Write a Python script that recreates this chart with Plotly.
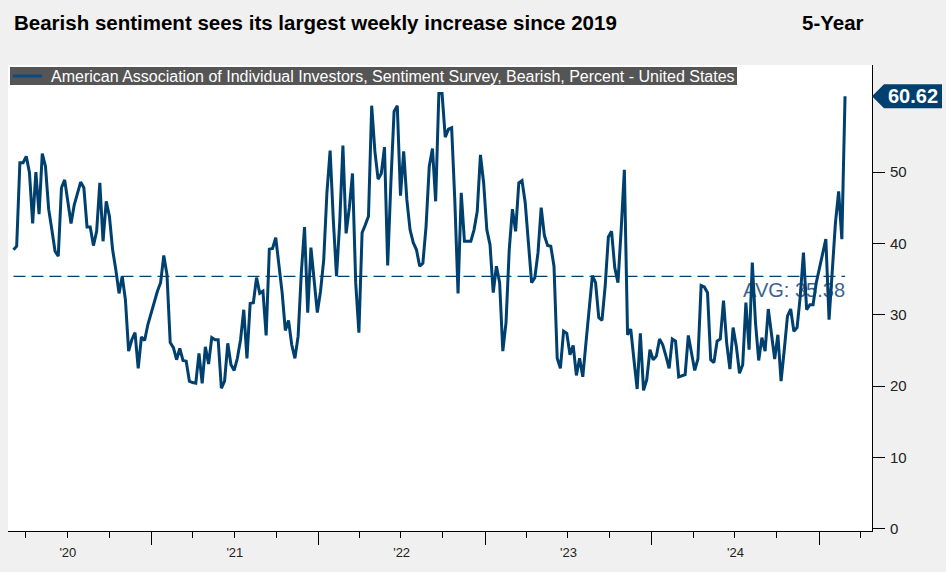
import plotly.graph_objects as go
import pandas as pd

# ---------------- data ----------------
title_text = "Bearish sentiment sees its largest weekly increase since 2019"
period_text = "5-Year"
series_name = ("American Association of Individual Investors, Sentiment Survey, "
               "Bearish, Percent - United States")
last_date = "2025-02-27"
avg_value = 35.38
y_ticks = [0, 10, 20, 30, 40, 50]

bearish_part1 = [39.1, 39.6, 51.3, 51.3, 52.2, 49.9, 42.8, 50.0, 44.1, 52.6,
                 50.8, 44.8, 41.9, 38.9, 38.2, 47.8, 48.9, 45.9, 42.8, 45.4,
                 47.1, 48.6, 47.8, 42.3, 42.3, 39.7, 41.7, 48.5, 40.3, 45.9,
                 43.8, 39.1, 36.3, 33.0, 35.4, 32.1, 24.9, 26.5, 27.5, 22.5,
                 26.9, 26.4, 28.6, 30.3, 31.9, 33.3, 34.5, 38.3, 35.6, 26.1,
                 25.4, 23.7, 25.3, 23.6, 23.5, 20.7, 20.5, 20.4, 24.6, 20.4,
                 25.5, 23.1, 26.8, 26.5, 26.5, 19.7]
bearish_part2 = [20.7, 26.0, 23.0, 22.2, 23.9, 26.5, 30.7, 23.9, 31.6, 31.7,
                 35.2, 33.0, 33.3, 27.1, 39.2, 39.3, 40.8, 37.3, 33.1, 27.8,
                 29.2, 25.8, 23.9, 27.0, 35.9, 42.3, 30.3, 39.4, 34.9, 30.3,
                 33.3, 37.7, 47.1, 53.0, 43.3, 35.4, 42.9, 53.7, 41.4, 45.0,
                 49.8, 34.5, 27.5, 41.5, 42.6, 43.8, 59.3, 52.9, 49.0, 49.8,
                 53.5, 36.9, 48.5, 58.5, 59.3, 46.7, 52.9, 46.1, 41.9, 40.1,
                 39.1, 36.8, 37.2, 42.4, 50.8, 53.3, 45.9]
bearish_part3 = [61.0, 61.0, 54.9, 56.0, 56.2, 45.9, 33.0, 47.1, 40.3, 40.3,
                 40.3, 41.9, 44.5, 52.4, 48.5, 41.9, 39.8, 33.1, 36.8, 34.5,
                 24.9, 28.9, 39.1, 44.8, 41.7, 48.5, 48.8, 45.7, 40.1, 34.5,
                 35.2, 38.7, 45.0, 41.1, 39.7, 39.6, 36.8, 23.9, 22.5, 27.7,
                 27.4, 24.4, 25.7, 21.5, 23.9, 21.3, 26.1, 30.7, 35.5, 34.5,
                 29.6, 29.2, 34.0, 40.9, 41.7, 36.6, 34.5, 41.9, 50.3, 27.2,
                 28.0, 23.7, 19.6, 27.4, 19.4, 20.9, 25.1]
bearish_part4 = [23.7, 24.2, 26.6, 25.8, 24.2, 22.5, 26.6, 26.3, 21.3, 21.5,
                 21.6, 27.1, 24.6, 22.2, 23.8, 34.1, 33.9, 33.1, 23.7, 23.3,
                 26.3, 26.6, 32.0, 26.0, 22.4, 28.2, 25.6, 21.8, 23.0, 31.7,
                 25.1, 37.3, 28.9, 23.6, 26.8, 24.9, 30.8, 27.0, 23.8, 27.2,
                 20.7, 25.1, 29.8, 30.8, 27.7, 28.2, 32.6, 38.7, 30.7, 31.4,
                 31.4, 34.5, 36.6, 38.2, 40.6, 29.3, 36.3, 42.9, 47.3, 40.6,
                 60.62]

values = bearish_part1 + bearish_part2 + bearish_part3 + bearish_part4
dates = pd.date_range(end=last_date, periods=len(values), freq="7D")

# ---------------- style / layout ----------------
W, H = 946, 572
ML, MR, MT, MB = 8, 74, 65, 41
PW, PH = W - ML - MR, H - MT - MB
Y_RANGE = [-0.3, 65]
UNITS_PER_PX = (Y_RANGE[1] - Y_RANGE[0]) / PH
LINE = "#00406e"
BG = "#f0f0f0"
FONT = "Liberation Sans, Arial, sans-serif"


def px(x):
    return (x - ML) / PW


def py(y):
    return (H - MB - y) / PH


def pv(v):
    return (v - Y_RANGE[0]) / (Y_RANGE[1] - Y_RANGE[0])


fig = go.Figure()

# average dashed line
fig.add_trace(go.Scatter(
    x=[dates[0], dates[-1]], y=[avg_value, avg_value], mode="lines",
    line=dict(color=LINE, width=1.4, dash="12px,6px"),
    hoverinfo="skip", showlegend=False))

# average label (drawn behind the series line), nudged 6px lower
fig.add_trace(go.Scatter(
    x=[dates[-1]], y=[avg_value - 6 * UNITS_PER_PX], mode="text",
    text=[f"AVG: {avg_value:.2f}"], textposition="bottom left",
    textfont=dict(size=20, color="#3a6590", family=FONT),
    hoverinfo="skip", showlegend=False))

# main series
fig.add_trace(go.Scatter(
    x=dates, y=values, mode="lines", name=series_name,
    line=dict(color=LINE, width=3), showlegend=False))

shapes = []
annotations = []

# legend box
shapes.append(dict(type="rect", xref="paper", yref="paper",
                   x0=px(10), x1=px(737), y0=py(85), y1=py(67),
                   fillcolor="#555555", line=dict(width=0), layer="above"))
shapes.append(dict(type="line", xref="paper", yref="paper",
                   x0=px(13), x1=px(42), y0=py(76), y1=py(76),
                   line=dict(color="#0b4a80", width=3), layer="above"))
annotations.append(dict(xref="paper", yref="paper", x=px(49), y=py(76.5),
                        xanchor="left", yanchor="middle", showarrow=False,
                        text=series_name,
                        font=dict(size=16, color="white", family=FONT)))

# last-value tag
last_v = values[-1]
yc = pv(last_v)
hh = 12 / PH
x_tip, x_body, x_end = px(872), px(884), px(942)
shapes.append(dict(
    type="path", xref="paper", yref="paper",
    path=(f"M {x_tip},{yc} L {x_body},{yc + hh} L {x_end},{yc + hh} "
          f"L {x_end},{yc - hh} L {x_body},{yc - hh} Z"),
    fillcolor=LINE, line=dict(width=0), layer="above"))
annotations.append(dict(xref="paper", yref="paper", x=(x_body + x_end) / 2,
                        y=yc, xanchor="center", yanchor="middle",
                        showarrow=False, text=f"<b>{last_v:.2f}</b>",
                        font=dict(size=20, color="white", family=FONT)))

# titles
annotations.append(dict(xref="paper", yref="paper", x=px(12), y=py(22),
                        xanchor="left", yanchor="middle", showarrow=False,
                        text=f"<b>{title_text}</b>",
                        font=dict(size=20.5, color="black", family=FONT)))
annotations.append(dict(xref="paper", yref="paper", x=px(866), y=py(22),
                        xanchor="right", yanchor="middle", showarrow=False,
                        text=f"<b>{period_text}</b>",
                        font=dict(size=20.5, color="black", family=FONT)))

fig.update_layout(
    width=W, height=H,
    margin=dict(l=ML, r=MR, t=MT, b=MB, pad=0),
    paper_bgcolor=BG, plot_bgcolor="white",
    showlegend=False,
    shapes=shapes, annotations=annotations,
    font=dict(family=FONT, color="#222222"),
    xaxis=dict(
        type="date",
        range=["2020-02-22", "2025-04-27"],
        showgrid=False, zeroline=False,
        showline=True, linecolor="black", linewidth=1,
        ticks="outside", ticklen=13, tickcolor="black", tickwidth=1,
        dtick="M12", tick0="2020-01-01", tickformat="'%y",
        ticklabelmode="period", ticklabelstandoff=-4,
        tickfont=dict(size=13, color="#222222", family=FONT),
        minor=dict(dtick="M3", tick0="2020-01-01", ticks="outside",
                   ticklen=6, tickcolor="black", showgrid=False),
        fixedrange=True,
    ),
    yaxis=dict(
        side="right", range=Y_RANGE,
        tickvals=y_ticks,
        showgrid=False, zeroline=False,
        showline=True, linecolor="black", linewidth=1,
        ticks="outside", ticklen=12, tickcolor="black",
        ticklabelstandoff=2,
        tickfont=dict(size=15, color="#222222", family=FONT),
        fixedrange=True,
    ),
)

fig.write_html("out.html")
